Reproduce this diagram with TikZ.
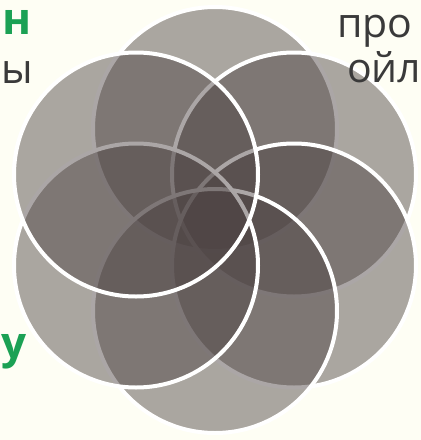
\documentclass[tikz,border=0pt]{standalone}
\usepackage{fontspec}
\setmainfont{Open Sans}
\definecolor{bgcol}{HTML}{FEFEF4}
\definecolor{petalcol}{HTML}{4D4343}
\definecolor{greentxt}{HTML}{1BA154}
\definecolor{greytxt}{HTML}{3A3A3A}
\begin{document}
\begin{tikzpicture}[x=1pt,y=-1pt,
  petal/.style={fill=petalcol, fill opacity=0.47, draw=white, draw opacity=1, line width=4pt},
  greyword/.style={inner sep=0pt, text=greytxt, font=\fontsize{41}{41}\selectfont},
  greenword/.style={inner sep=0pt, text=greentxt, font=\fontsize{44}{44}\selectfont\bfseries}]
\fill[bgcol] (0,0) rectangle (421,440);
\useasboundingbox (0,0) rectangle (421,440);
% six circles, drawn clockwise from the top
\draw[petal] (215,129)   circle[radius=122];
\draw[petal] (294,174.5) circle[radius=122];
\draw[petal] (294,265.5) circle[radius=122];
\draw[petal] (215,311)   circle[radius=122];
\draw[petal] (136,265.5) circle[radius=122];
\draw[petal] (136,174.5) circle[radius=122];
% text fragments
\node[greenword, anchor=base west] (tl1) at (2,34) {н};
\node[greyword, anchor=base west] (tl2) at (1,83) {ы};
\node[greyword, anchor=base west] (tr1) at (337,37) {про};
\node[greyword, anchor=base west] (tr2) at (347,82) {ойл};
\node[greenword, anchor=base west] (bl1) at (1,358) {у};
\end{tikzpicture}
\end{document}
